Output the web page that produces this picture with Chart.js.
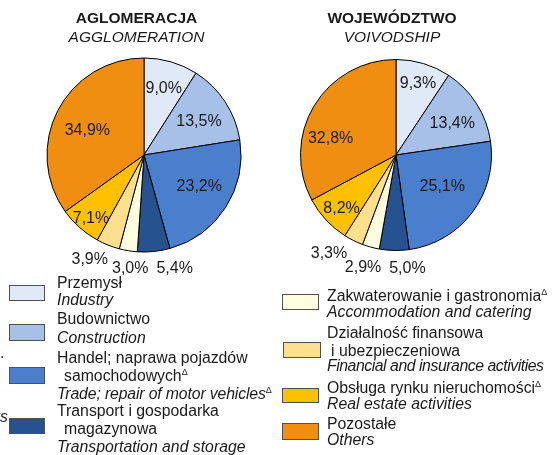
<!DOCTYPE html>
<html>
<head>
<meta charset="utf-8">
<script src="https://cdn.jsdelivr.net/npm/chart.js@4.4.0/dist/chart.umd.min.js"></script>
<style>
    body { margin: 0; width: 553px; height: 455px; overflow: hidden; background: #fff; position: relative;
           font-family: "Liberation Sans", Arial, sans-serif; color: #1a1a1a; }
    canvas { position: absolute; }
    .t { position: absolute; white-space: nowrap; font-size: 15.8px; line-height: 18px; }
    .title { position: absolute; width: 240px; text-align: center; font-size: 15.5px; line-height: 18px; white-space: nowrap; }
    .sw { position: absolute; box-sizing: border-box; border: 1px solid #505050; }
    sup { font-size: 9px; vertical-align: 0; position: relative; top: -6px; letter-spacing: 0; }
    i { font-style: italic; }
</style>
</head>
<body>
<canvas id="pieAgl" width="290" height="290" style="left:-1px; top:10px"></canvas>
<canvas id="pieWoj" width="290" height="290" style="left:251px; top:10px"></canvas>
<div id="texts"></div>

<script>
// categories (Polish lines, English line, delta mark)
const categoriesPl = [
    ['Przemysł'],
    ['Budownictwo'],
    ['Handel; naprawa pojazdów', 'samochodowych'],
    ['Transport i gospodarka', 'magazynowa'],
    ['Zakwaterowanie i gastronomia'],
    ['Działalność finansowa', 'i ubezpieczeniowa'],
    ['Obsługa rynku nieruchomości'],
    ['Pozostałe']
];
const categoriesEn = [
    'Industry',
    'Construction',
    'Trade; repair of motor vehicles',
    'Transportation and storage',
    'Accommodation and catering',
    'Financial and insurance activities',
    'Real estate activities',
    'Others'
];
const deltaPl = [false, false, true, false, true, false, true, false];
const deltaEn = [false, false, true, false, false, false, false, false];

// shares, %
const agglomeration = [9.0, 13.5, 23.2, 5.4, 3.0, 3.9, 7.1, 34.9];
const voivodship = [9.3, 13.4, 25.1, 5.0, 2.9, 3.3, 8.2, 32.8];

const colors = ['#dfe9f7', '#a6c0e8', '#4a7fcd', '#26528f', '#fffde0', '#fde08e', '#ffc000', '#f08e12'];

// label placement: [radius fraction, angle shift in degrees]
const placeAgl = [[0.73, 0], [0.67, 1], [0.65, -4], [1.2, -9.5], [1.17, -2.4], [1.2, 6], [0.84, -1], [0.64, -3]];
const placeWoj = [[0.8, 0], [0.68, 2.5], [0.58, -3.6], [1.18, -6.9], [1.22, 1.1], [1.24, 8], [0.79, -1], [0.71, -15.5]];

function fmt(v) {
    return v.toFixed(1).replace('.', ',') + '%';
}

const sliceLabels = {
    id: 'sliceLabels',
    afterDatasetsDraw(chart, args, opts) {
        const ctx = chart.ctx;
        const meta = chart.getDatasetMeta(0);
        const values = chart.data.datasets[0].data;
        ctx.save();
        ctx.font = '16px "Liberation Sans", Arial, sans-serif';
        ctx.fillStyle = '#1a1a1a';
        ctx.textAlign = 'center';
        ctx.textBaseline = 'alphabetic';
        meta.data.forEach((arc, i) => {
            const p = arc.getProps(['x', 'y', 'startAngle', 'endAngle', 'outerRadius'], true);
            const [f, shift] = opts.place[i];
            const a = (p.startAngle + p.endAngle) / 2 + shift * Math.PI / 180;
            const r = p.outerRadius * f;
            ctx.fillText(fmt(values[i]), p.x + Math.cos(a) * r, p.y + Math.sin(a) * r + 5.7);
        });
        ctx.restore();
    }
};

function makePie(id, values, radius, place) {
    return new Chart(document.getElementById(id), {
        type: 'pie',
        data: {
            labels: categoriesEn,
            datasets: [{
                data: values,
                backgroundColor: colors,
                borderColor: '#000',
                borderWidth: 1
            }]
        },
        options: {
            responsive: false,
            animation: false,
            radius: radius,
            layout: { padding: 0 },
            plugins: {
                legend: { display: false },
                tooltip: { enabled: false },
                sliceLabels: { place: place }
            }
        },
        plugins: [sliceLabels]
    });
}

makePie('pieAgl', agglomeration, 97, placeAgl);
makePie('pieWoj', voivodship, 95.5, placeWoj);

// text layout
const box = document.getElementById('texts');
function addText(html, left, baseline, cls, extra) {
    const d = document.createElement('div');
    d.className = cls || 't';
    d.innerHTML = html;
    d.style.left = left + 'px';
    d.style.top = (baseline - 14.6) + 'px';
    if (extra) Object.assign(d.style, extra);
    box.appendChild(d);
}

addText('<b>AGLOMERACJA</b>', 136.5 - 120, 24, 'title');
addText('<i>AGGLOMERATION</i>', 136.5 - 120, 43, 'title');
addText('<b>WOJEWÓDZTWO</b>', 392 - 120, 24, 'title');
addText('<i>VOIVODSHIP</i>', 392 - 120, 43, 'title');

// legend geometry: swatch [x, y, w, h], text x, baselines per line, english letter spacing
const legendLayout = [
    { sw: [9, 285, 36, 16], x: 57, lines: [288.3, 306], ls: 0 },
    { sw: [9, 324, 36, 17], x: 57, lines: [325, 344], ls: 0 },
    { sw: [9, 367, 36, 17], x: 57, lines: [363.3, 381.7, 400], ls: -0.14 },
    { sw: [9, 418, 36, 16], x: 57, lines: [416.7, 434.3, 452.7], ls: 0 },
    { sw: [282, 294, 37, 16], x: 327, lines: [301.7, 317.7], ls: 0 },
    { sw: [283, 342, 38, 16], x: 327, lines: [338.3, 356.7, 371.7], ls: -0.45 },
    { sw: [282, 388, 37, 15], x: 327, lines: [393.3, 409.3], ls: 0 },
    { sw: [282, 423, 37, 17], x: 327, lines: [430, 446], ls: 0 }
];
const indent = [0, 0, 7, 7, 0, 4, 0, 0];

legendLayout.forEach((it, i) => {
    const s = document.createElement('div');
    s.className = 'sw';
    s.style.left = it.sw[0] + 'px';
    s.style.top = it.sw[1] + 'px';
    s.style.width = it.sw[2] + 'px';
    s.style.height = it.sw[3] + 'px';
    s.style.background = colors[i];
    box.appendChild(s);

    const pl = categoriesPl[i];
    pl.forEach((line, k) => {
        let html = line;
        if (k === pl.length - 1 && deltaPl[i]) html += '<sup>Δ</sup>';
        addText(html, it.x + (k > 0 ? indent[i] : 0), it.lines[k]);
    });
    let en = '<i>' + categoriesEn[i] + '</i>';
    if (deltaEn[i]) en += '<sup>Δ</sup>';
    addText(en, it.x, it.lines[pl.length], 't', { letterSpacing: it.ls + 'px' });
});

// cut-off fragments at the left edge of the reference
addText('<i>rs</i>', -92, 423, 't', { width: '100px', textAlign: 'right' });
addText('.', 0, 359);
</script>
</body>
</html>
